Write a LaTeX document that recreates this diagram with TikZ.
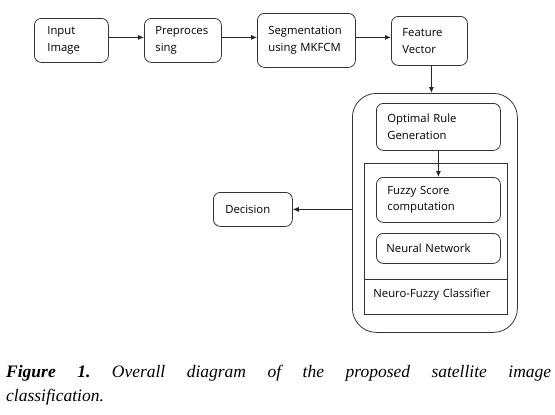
\documentclass[tikz,border=0pt]{standalone}
\usepackage{fontspec}
\setmainfont{Liberation Serif}
\newfontfamily\boxfont{Open Sans}
\usetikzlibrary{arrows.meta}
\hyphenpenalty=10000
\frenchspacing
\begin{document}
\begin{tikzpicture}[x=1pt,y=-1pt,
  blk/.style={draw=black!80, line width=0.8pt, rounded corners=7pt, anchor=north west,
    align=left, inner ysep=0pt,
    font=\boxfont\fontsize{11.3}{16.5}\selectfont},
  frame/.style={draw=black!80, line width=0.8pt, anchor=north west, inner sep=0pt},
  arr/.style={draw=black!85, line width=0.8pt, -{Latex[length=6pt,width=5pt]}}]
\useasboundingbox (0,0) rectangle (555,415);

% top row
\node[blk, text width=48pt, inner xsep=13pt, minimum height=44pt] (in) at (34,18) {Input\\Image};
\node[blk, text width=55pt, inner xsep=11pt, minimum height=44pt] (pre) at (144,18) {Preproces\\sing};
\node[blk, text width=76pt, inner xsep=11pt, minimum height=54pt] (seg) at (257,13) {Segmentation\\using MKFCM};
\node[blk, text width=54pt, inner xsep=11pt, minimum height=49pt] (fv) at (391,16) {Feature\\Vector};

% classifier
\node[frame, rounded corners=24pt, minimum width=165pt, minimum height=239pt] (outer) at (352,93) {};
\node[frame, minimum width=143pt, minimum height=151pt] (inner) at (364,163) {};
\node[frame, minimum width=143pt, minimum height=35pt, align=left, inner xsep=9pt,
  text width=125pt, text height=8pt, text depth=7pt,
  font=\boxfont\fontsize{11.3}{16.5}\selectfont] (nfc) at (364,279) {Neuro-Fuzzy Classifier};
\node[blk, text width=102pt, inner xsep=11pt, minimum height=47pt] (org) at (376,103) {Optimal Rule\\Generation};
\node[blk, text width=102pt, inner xsep=11pt, minimum height=45pt] (fz) at (376,177) {Fuzzy Score\\computation};
\node[blk, text width=104pt, inner xsep=10pt, minimum height=30pt] (nn) at (376,233) {Neural Network};

% decision
\node[blk, text width=55pt, inner xsep=12pt, minimum height=34pt] (dec) at (213,192) {Decision};

% connectors
\coordinate (a1) at ([yshift=3pt]in.east);
\draw[arr] (a1) -- (a1 -| pre.west);
\coordinate (a2) at ([yshift=3pt]pre.east);
\draw[arr] (a2) -- (a2 -| seg.west);
\coordinate (a3) at ([yshift=3pt]seg.east);
\draw[arr] (a3) -- (a3 -| fv.west);
\coordinate (a4) at ([xshift=2pt]fv.south);
\draw[arr] (a4) -- (a4 |- outer.north);
\draw[arr] (org.south) -- (fz.north);
\draw[arr] (outer.west |- dec.east) -- (dec.east);

% caption
\node[anchor=north west, inner sep=0pt, text width=545pt, align=justify,
  font=\fontsize{17.5}{24}\selectfont\itshape] (cap) at (6,365)
  {\textbf{Figure 1.} Overall diagram of the proposed satellite image\linebreak classification.};
\end{tikzpicture}
\end{document}
